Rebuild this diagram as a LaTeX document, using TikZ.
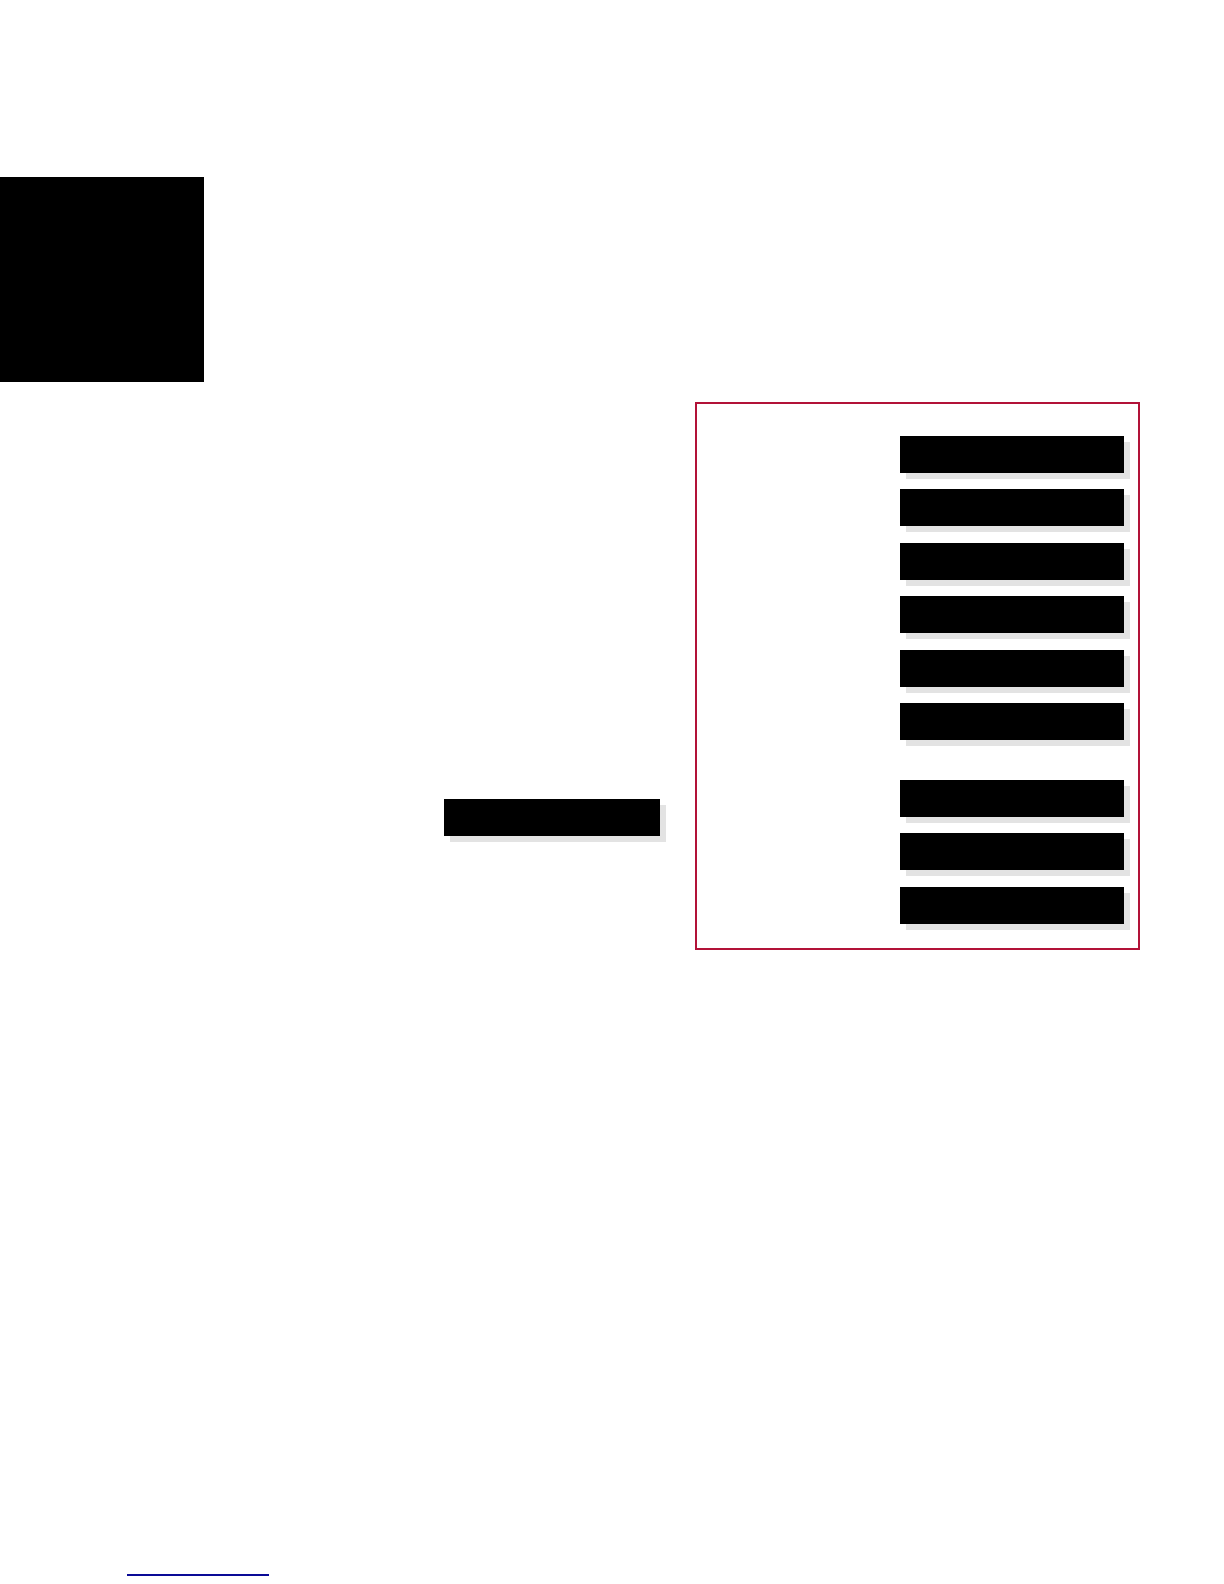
\documentclass[tikz,border=0pt]{standalone}
\usepackage{tikz}
\usetikzlibrary{positioning, shadows}

\definecolor{framered}{RGB}{178,18,56}
\definecolor{linkblue}{RGB}{10,10,150}

\begin{document}
\begin{tikzpicture}[
        x=0.5pt, y=-0.5pt,
        node distance=8.2pt,
        bar/.style={rectangle, fill=black, inner sep=0pt, outer sep=0pt, minimum height=18.5pt, minimum width=112pt,
            drop shadow={shadow xshift=3pt, shadow yshift=-3pt, fill=gray!22, opacity=1}},
        tab/.style={rectangle, fill=black, inner sep=0pt, outer sep=0pt, minimum width=102pt, minimum height=102.5pt}
    ]
    \useasboundingbox (0,0) rectangle (1224,1584);

    % nodes
    \node[tab, anchor=north west] (corner) at (0,177) {};
    \node[bar, anchor=north west, minimum width=108pt] (left) at (444,799) {};

    \node[bar, anchor=north west] (r1) at (900,436) {};
    \node[bar, below=of r1] (r2) {};
    \node[bar, below=of r2] (r3) {};
    \node[bar, below=of r3] (r4) {};
    \node[bar, below=of r4] (r5) {};
    \node[bar, below=of r5] (r6) {};
    \node[bar, below=20pt of r6] (r7) {};
    \node[bar, below=of r7] (r8) {};
    \node[bar, below=of r8] (r9) {};

    % frame
    \draw[framered, line width=1pt] (696,403) rectangle (1139,949);

    % link
    \draw[linkblue, line width=1pt] (127,1575) -- (269,1575);

    \end{tikzpicture}
\end{document}
